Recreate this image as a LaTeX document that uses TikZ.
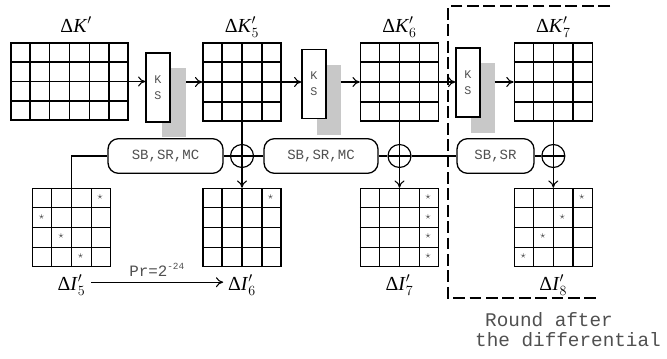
\documentclass[tikz,border=0pt]{standalone}
\usepackage{fontspec}
\setmainfont{Liberation Serif}
\setmonofont{Liberation Mono}
\usepackage{tikz}
\usetikzlibrary{arrows.meta, positioning, calc}
\definecolor{shadegray}{RGB}{200, 200, 200}
\definecolor{textgray}{RGB}{80, 80, 80}

\begin{document}
\begin{tikzpicture}[
    state/.style={rectangle, draw, line width=1.2pt, minimum width=2.34cm, minimum height=2.34cm, inner sep=0pt},
    widestate/.style={state, minimum width=3.51cm, minimum height=2.31cm},
    keysched/.style={rectangle, draw, line width=1pt, fill=white, minimum width=0.72cm, minimum height=2.07cm, inner sep=0pt, align=center, text=textgray, font=\ttfamily\fontsize{10}{13.6}\selectfont},
    shade/.style={rectangle, fill=shadegray, minimum width=0.72cm, minimum height=2.08cm, inner sep=0pt},
    roundfn/.style={rectangle, draw, line width=1.1pt, rounded corners=9pt, minimum height=1.04cm, inner sep=0pt, text=textgray, font=\ttfamily\fontsize{12}{14}\selectfont},
    xorop/.style={circle, draw, line width=1pt, minimum size=0.69cm, inner sep=0pt, path picture={\draw[line width=1pt] (path picture bounding box.north) -- (path picture bounding box.south) (path picture bounding box.west) -- (path picture bounding box.east);}},
    diff/.style={font=\fontsize{17}{20}\selectfont, inner sep=0pt},
    starmark/.style={font=\small, text=textgray, inner sep=0pt},
    note/.style={text=textgray, font=\ttfamily\fontsize{16.5}{19}\selectfont},
    conn/.style={line width=0.9pt},
    flow/.style={conn, -{To[length=2.2mm, width=3mm]}}
]
    \useasboundingbox (0,0) rectangle (20.01,10.74);

    % key differences
    \node[widestate] (k0) at (2.085,8.295) {};
    \node[state] (k5) at (7.26,8.28) {};
    \node[state] (k6) at (11.985,8.28) {};
    \node[state] (k7) at (16.6,8.28) {};

    % state differences
    \node[state] (i5) at (2.145,3.915) {};
    \node[state] (i6) at (7.26,3.915) {};
    \node[state] (i7) at (11.985,3.915) {};
    \node[state] (i8) at (16.6,3.915) {};

    % cell lines
    \foreach \g in {k5,k6,k7,i5,i6,i7,i8}
      \foreach \f in {0.25,0.5,0.75} {
        \draw[line width=1.2pt] ($(\g.south west)!\f!(\g.south east)$) -- ($(\g.north west)!\f!(\g.north east)$);
        \draw[line width=1.2pt] ($(\g.south west)!\f!(\g.north west)$) -- ($(\g.south east)!\f!(\g.north east)$);
      }
    \foreach \f in {1,...,5}
      \draw[line width=1.2pt] ($(k0.south west)!{\f/6}!(k0.south east)$) -- ($(k0.north west)!{\f/6}!(k0.north east)$);
    \foreach \f in {0.25,0.5,0.75}
      \draw[line width=1.2pt] ($(k0.south west)!\f!(k0.north west)$) -- ($(k0.south east)!\f!(k0.north east)$);

    % active bytes
    \foreach \g/\c/\r in {i5/3/0, i5/0/1, i5/1/2, i5/2/3, i6/3/0, i7/3/0, i7/3/1, i7/3/2, i7/3/3, i8/3/0, i8/2/1, i8/1/2, i8/0/3}
      \node[starmark] (s-\g-\c\r) at ($(\g.north west)+(\c*0.585+0.2925,-\r*0.585-0.2925)$) {$\star$};

    % labels
    \node[diff, above=0.3cm of k0.north, anchor=base, xshift=0.2cm] (lk0) {Δ\textit{K}$'$};
    \node[diff, above=0.3cm of k5.north, anchor=base] (lk5) {Δ\textit{K}$'_5$};
    \node[diff, above=0.3cm of k6.north, anchor=base] (lk6) {Δ\textit{K}$'_6$};
    \node[diff, above=0.3cm of k7.north, anchor=base] (lk7) {Δ\textit{K}$'_7$};
    \node[diff, below=0.69cm of i5.south, anchor=base] (li5) {Δ\textit{I}$'_5$};
    \node[diff, below=0.69cm of i6.south, anchor=base] (li6) {Δ\textit{I}$'_6$};
    \node[diff, below=0.69cm of i7.south, anchor=base] (li7) {Δ\textit{I}$'_7$};
    \node[diff, below=0.69cm of i8.south, anchor=base] (li8) {Δ\textit{I}$'_8$};

    % key schedule
    \node[shade] (g1) at (5.22,7.665) {};
    \node[shade] (g2) at (9.855,7.74) {};
    \node[shade] (g3) at (14.475,7.8) {};
    \node[keysched] (ks1) at (4.74,8.115) {K\\S};
    \node[keysched] (ks2) at (9.42,8.22) {K\\S};
    \node[keysched] (ks3) at (14.04,8.265) {K\\S};

    % round functions
    \node[roundfn, minimum width=3.45cm] (sb1) at (4.965,6.06) {SB,SR,MC};
    \node[roundfn, minimum width=3.42cm] (sb2) at (9.63,6.06) {SB,SR,MC};
    \node[roundfn, minimum width=2.31cm] (sb3) at (14.865,6.06) {SB,SR};
    \node[xorop] (x1) at (k5 |- sb1) {};
    \node[xorop] (x2) at (k6 |- sb2) {};
    \node[xorop] (x3) at (k7 |- sb3) {};

    % key path
    \draw[flow] (k0.east) -- (k0.east -| ks1.west);
    \draw[flow] (g1.east |- k5.west) -- (k5.west);
    \draw[flow] (k5.east) -- (k5.east -| ks2.west);
    \draw[flow] (g2.east |- k6.west) -- (k6.west);
    \draw[flow] (k6.east) -- (k6.east -| ks3.west);
    \draw[flow] (g3.east |- k7.west) -- (k7.west);

    % state path
    \draw[conn] (i5.north) |- (sb1.west);
    \draw[conn] (sb1) -- (x1);
    \draw[conn] (x1) -- (sb2);
    \draw[conn] (sb2) -- (x2);
    \draw[conn] (x2) -- (sb3);
    \draw[conn] (sb3) -- (x3);
    \draw[conn] (k5) -- (x1);
    \draw[conn] (k6) -- (x2);
    \draw[conn] (k7) -- (x3);
    \draw[flow] (x1) -- (i6);
    \draw[flow] (x2) -- (i7);
    \draw[flow] (x3) -- (i8);

    % characteristic
    \draw[flow, shorten <=5pt, shorten >=4pt] ([yshift=2.5pt]li5.east) -- node[above=1pt, text=textgray, font=\ttfamily\fontsize{13.5}{15}\selectfont] (pr) {Pr=2\raisebox{6pt}{\fontsize{8}{9}\selectfont -24}} ([yshift=2.5pt]li6.west);

    % last round
    \draw[line width=2.3pt, dash pattern=on 10pt off 4pt] (18.3,10.56) -- (13.44,10.56) -- (13.44,1.8) -- (18.0,1.8);
    \node[note] (cap1) at (16.47,1.14) {Round after};
    \node[note] (cap2) at (17.04,0.54) {the differential};

\end{tikzpicture}
\end{document}
